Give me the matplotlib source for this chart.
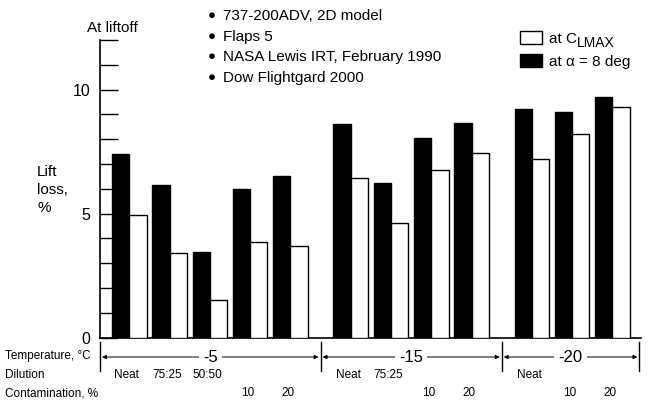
import numpy as np
import matplotlib.pyplot as plt
from matplotlib.patches import Patch
from matplotlib import transforms

plt.rcParams['font.family'] = ['Liberation Sans', 'DejaVu Sans']

# test conditions, one entry per pair of bars
temps = ['-5', '-15', '-20']
group_sizes = [5, 4, 3]
dilution = ['Neat', '75:25', '50:50', '', '',
            'Neat', '75:25', '', '',
            'Neat', '', '']
contamination = ['', '', '', '10', '20',
                 '', '', '10', '20',
                 '', '10', '20']

# lift loss, %
loss_alpha8 = [7.4, 6.15, 3.45, 6.0, 6.5, 8.6, 6.25, 8.05, 8.65, 9.2, 9.1, 9.7]
loss_clmax = [4.95, 3.4, 1.5, 3.85, 3.7, 6.45, 4.6, 6.75, 7.45, 7.2, 8.2, 9.3]

notes = ['737-200ADV, 2D model', 'Flaps 5',
         'NASA Lewis IRT, February 1990', 'Dow Flightgard 2000']

W, H = 650, 401
def fy(py):
    return 1 - py / H

# one slot per pair, half a slot between temperature groups
x = []
start = 0.0
for n in group_sizes:
    x.extend(start + np.arange(n))
    start += n + 0.5
x = np.array(x)
w = 0.43

fig = plt.figure(figsize=(W / 100, H / 100), dpi=100)
ax = fig.add_axes([100 / W, 63.5 / H, 541 / W, 297.5 / H])

ax.bar(x, loss_alpha8, w, align='edge', color='black', edgecolor='black', lw=1, zorder=3)
ax.bar(x + w, loss_clmax, w, align='edge', color='white', edgecolor='black', lw=1, zorder=3)

ax.set_xlim(-0.3, 13.14)
ax.set_ylim(0, 12)
ax.set_xticks([])
ax.set_yticks([0, 5, 10])
ax.set_yticks(np.arange(13), minor=True)
ax.tick_params(axis='y', which='both', direction='in', length=13, width=1,
               pad=7, labelsize=11.5)
for s in ['top', 'right']:
    ax.spines[s].set_visible(False)
for s in ['left', 'bottom']:
    ax.spines[s].set_linewidth(1.2)

fig.text(112 / W, fy(28), 'At liftoff', ha='center', va='center', fontsize=11)
fig.text(37 / W, fy(190), 'Lift\nloss,\n%', ha='left', va='center',
         fontsize=11, linespacing=1.35)

# notes block
for i, t in enumerate(notes):
    yy = fy(16 + i * 20.7)
    fig.text(212 / W, yy, '\u25cf', ha='center', va='center', fontsize=9.5)
    fig.text(223 / W, yy, t, ha='left', va='center', fontsize=11)

leg = ax.legend(handles=[Patch(fc='white', ec='black'), Patch(fc='black', ec='black')],
                labels=['at C', 'at \u03b1 = 8 deg'],
                frameon=False, loc='upper left', bbox_to_anchor=(520 / W, fy(31)),
                bbox_transform=fig.transFigure, fontsize=11, handlelength=1.45,
                handleheight=0.9, handletextpad=0.45, labelspacing=0.55,
                borderpad=0, borderaxespad=0)

# LMAX subscript set just after the "C"
fig.canvas.draw()
bb = leg.get_texts()[0].get_window_extent()
fig.text(bb.x1 / W, (bb.y0 - 4) / H, 'LMAX', ha='left', va='bottom', fontsize=10)

# condition table under the axis
trans = transforms.blended_transform_factory(ax.transData, fig.transFigure)
row_y = [356, 375, 393]
for lab, py in zip(['Temperature, \u00b0C', 'Dilution', 'Contamination, %'], row_y):
    fig.text(5 / W, fy(py), lab, ha='left', va='center', fontsize=8.5)

for i in range(len(x)):
    xc = x[i] + 0.36
    ax.text(xc, fy(row_y[1]), dilution[i], transform=trans, ha='center',
            va='center', fontsize=8.5)
    ax.text(xc, fy(row_y[2]), contamination[i], transform=trans, ha='center',
            va='center', fontsize=8.5)

# separators and arrows spanning each temperature group
ends = np.cumsum(group_sizes)
seps = [-0.3]
for k in range(len(group_sizes)):
    last = x[ends[k] - 1] + 2 * w
    if k < len(group_sizes) - 1:
        seps.append((last + x[ends[k]]) / 2)
    else:
        seps.append(last + 0.24)

for s in seps:
    ax.plot([s, s], [fy(342), fy(371)], transform=trans, clip_on=False,
            color='black', lw=1)

for k, t in enumerate(temps):
    a, b = seps[k], seps[k + 1]
    ax.annotate('', xy=(a + 0.05, fy(357)), xytext=(b - 0.05, fy(357)),
                xycoords=trans, textcoords=trans,
                arrowprops=dict(arrowstyle='<|-|>', color='black', lw=0.7,
                                mutation_scale=6, shrinkA=0, shrinkB=0))
    ax.text((a + b) / 2, fy(357), t, transform=trans, ha='center', va='center',
            fontsize=12, bbox=dict(fc='white', ec='none', pad=3))

fig.savefig('out.png', dpi=100)
